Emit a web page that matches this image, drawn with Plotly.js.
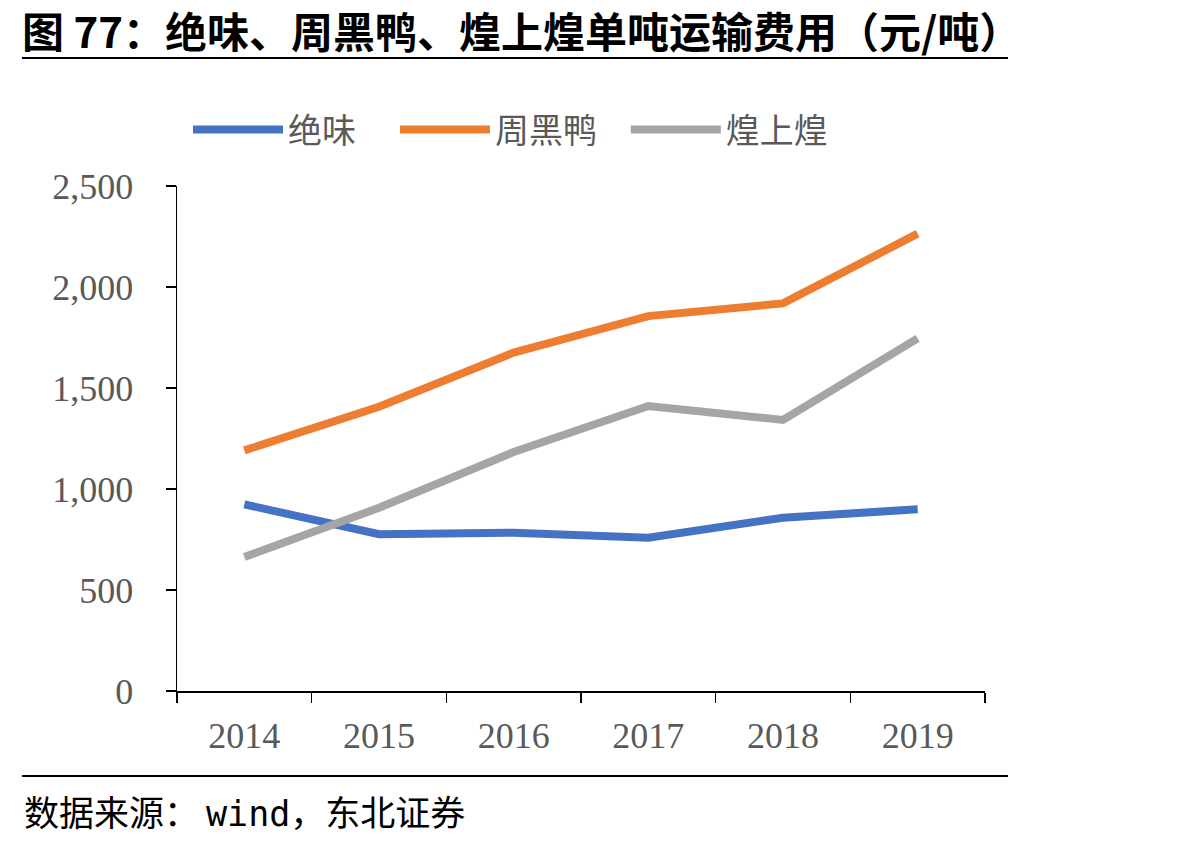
<!DOCTYPE html>
<html>
<head>
<meta charset="utf-8">
<script src="https://cdn.plot.ly/plotly-3.0.1.min.js"></script>
<style>
html,body{margin:0;padding:0;background:#fff;}
#chart{width:1198px;height:844px;}
</style>
</head>
<body>
<div id="chart"></div>
<script>
const years = ['2014', '2015', '2016', '2017', '2018', '2019'];
const juewei = [924, 776, 784, 759, 858, 900];
const zhouheiya = [1191, 1407, 1675, 1856, 1919, 2264];
const huangshanghuang = [663, 907, 1183, 1411, 1342, 1746];
const seriesNames = ['绝味', '周黑鸭', '煌上煌'];
const yTicks = [0, 500, 1000, 1500, 2000, 2500];
const yTickLabels = ['0', '500', '1,000', '1,500', '2,000', '2,500'];
const titleText = '图 77：绝味、周黑鸭、煌上煌单吨运输费用（元/吨）';
const sourceParts = ['数据来源：', 'wind', '，东北证券'];

const colors = ['#4472C4', '#ED7D31', '#A5A5A5'];
const cjk = '"Noto Sans CJK SC", sans-serif';
const serif = '"Liberation Serif", "Times New Roman", serif';
const legendPads = ['\u2002\u2002', '\u2002\u2009', ''];

const traces = [juewei, zhouheiya, huangshanghuang].map((vals, i) => ({
  type: 'scatter',
  mode: 'lines',
  x: years,
  y: vals,
  name: seriesNames[i] + legendPads[i],
  line: {color: colors[i], width: 8},
  hoverinfo: 'x+y+name'
}));

const L = 177, T = 186, W = 808, H = 505;
const px = v => (v - L) / W;
const py = v => (T + H - v) / H;

const layout = {
  width: 1198,
  height: 844,
  margin: {l: 177, r: 213, t: 186, b: 153},
  paper_bgcolor: '#fff',
  plot_bgcolor: '#fff',
  showlegend: true,
  legend: {
    orientation: 'h',
    x: px(188), xanchor: 'left',
    y: py(130), yanchor: 'middle',
    font: {family: cjk, size: 34, color: '#595959'},
    itemwidth: 90,
    tracegroupgap: 0,
    bgcolor: 'rgba(0,0,0,0)'
  },
  xaxis: {
    type: 'category',
    range: [-0.5, 5.5],
    tickson: 'boundaries',
    ticks: 'outside',
    ticklen: 10,
    tickwidth: 1.5,
    tickcolor: '#000',
    ticklabelstandoff: 12,
    showline: true,
    linecolor: '#000',
    linewidth: 1.5,
    showgrid: false,
    zeroline: false,
    tickfont: {family: serif, size: 36, color: '#595959'},
    fixedrange: true
  },
  yaxis: {
    range: [0, 2500],
    tickvals: yTicks,
    ticktext: yTickLabels,
    ticks: 'outside',
    ticklen: 10,
    tickwidth: 1.5,
    tickcolor: '#000',
    ticklabelstandoff: 25,
    showline: true,
    linecolor: '#000',
    linewidth: 1.5,
    showgrid: false,
    zeroline: false,
    tickfont: {family: serif, size: 36, color: '#595959'},
    fixedrange: true
  },
  shapes: [
    {type: 'line', xref: 'paper', yref: 'paper',
     x0: px(22), x1: px(1008), y0: py(58), y1: py(58),
     line: {color: '#000', width: 2}},
    {type: 'line', xref: 'paper', yref: 'paper',
     x0: px(22), x1: px(1008), y0: py(776), y1: py(776),
     line: {color: '#000', width: 2}}
  ],
  annotations: [
    {text: '<b>' + titleText + '</b>', xref: 'paper', yref: 'paper',
     x: px(20), y: py(30), xanchor: 'left', yanchor: 'middle',
     showarrow: false, font: {family: cjk, size: 42, color: '#000'}},
    {text: sourceParts[0] + '\u2009<span style="font-family:\'DejaVu Sans Mono\', monospace">' + sourceParts[1] + '</span>' + sourceParts[2],
     xref: 'paper', yref: 'paper',
     x: px(22), y: py(810), xanchor: 'left', yanchor: 'middle',
     showarrow: false, font: {family: cjk, size: 35, color: '#000'}}
  ]
};

Plotly.newPlot('chart', traces, layout, {displayModeBar: false, staticPlot: true});
</script>
</body>
</html>
